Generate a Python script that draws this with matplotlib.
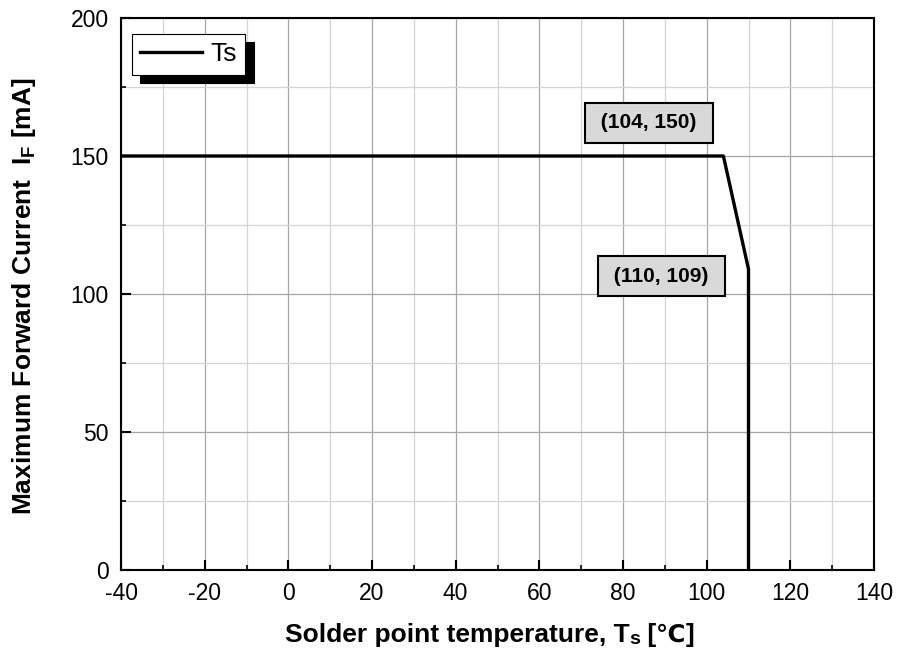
import matplotlib
matplotlib.use("Agg")
import matplotlib.pyplot as plt
from matplotlib.ticker import MultipleLocator

plt.rcParams['font.family'] = ['Liberation Sans', 'DejaVu Sans']
plt.rcParams['mathtext.fontset'] = 'custom'
plt.rcParams['mathtext.rm'] = 'Liberation Sans'
plt.rcParams['mathtext.bf'] = 'Liberation Sans:bold'
plt.rcParams['axes.unicode_minus'] = False

# Data
temp = [-40, 104, 110, 110]
current = [150, 150, 109, 0]
series_label = "Ts"
annotations = [("(104, 150)", 86.2, 162.0), ("(110, 109)", 89.1, 106.5)]
x_ticks = [-40, -20, 0, 20, 40, 60, 80, 100, 120, 140]
y_ticks = [0, 50, 100, 150, 200]

W, H = 898, 658
fig = plt.figure(figsize=(W/100, H/100), dpi=100)
ax = fig.add_axes([121/W, 1-570/H, (874-121)/W, (570-18)/H])

ax.plot(temp, current, color='black', lw=2.4, label=series_label, zorder=5)

ax.set_xlim(-40, 140)
ax.set_ylim(0, 200)
ax.set_xticks(x_ticks)
ax.set_yticks(y_ticks)
ax.xaxis.set_minor_locator(MultipleLocator(10))
ax.yaxis.set_minor_locator(MultipleLocator(25))
ax.grid(which='major', color='#a6a6a6', lw=0.9)
ax.grid(which='minor', color='#d4d4d4', lw=0.9)
ax.set_axisbelow(True)

ax.tick_params(which='major', direction='in', length=7, width=1.5, labelsize=16.5, pad=9)
ax.tick_params(which='minor', direction='in', length=3.5, width=1.2)
for s in ax.spines.values():
    s.set_linewidth(1.5)

# y label
fig.text(24/W, 1-296/H, r"Maximum Forward Current  $\mathbf{I_F}$ [mA]", fontsize=19,
         fontweight='bold', rotation=90, ha='center', va='center')

# x label built from pieces so that the degree-Celsius sign can fall back to DejaVu Sans
fig.canvas.draw()
renderer = fig.canvas.get_renderer()
base_y = 16 / H
parts = [("Solder point temperature, T", 19, 0), ("s", 14, -2), (" [", 19, 0), ("℃", 17.5, 0), ("]", 19, 0)]
texts = []
for s, fs, dy in parts:
    t = fig.text(0, base_y + dy / H, s, fontsize=fs, fontweight='bold', ha='left', va='baseline',
                 family=['Liberation Sans', 'DejaVu Sans'])
    texts.append(t)
widths = [t.get_window_extent(renderer).width for t in texts]
total = sum(widths)
x0 = 489.5 - total / 2
for t, w in zip(texts, widths):
    t.set_x(x0 / W)
    x0 += w

for txt, x, y in annotations:
    ax.text(x, y, " " + txt + " ", fontsize=15, fontweight='bold', ha='center', va='center', zorder=6,
            bbox=dict(boxstyle='square,pad=0.5', fc='#d9d9d9', ec='black', lw=1.5))

leg = ax.legend(loc='upper left', bbox_to_anchor=(11/753, 1-16/552), fontsize=19, fancybox=False,
                edgecolor='black', framealpha=1, handlelength=2.35, borderpad=0.32,
                handletextpad=0.3, borderaxespad=0,
                shadow={'ox': 6, 'oy': -6, 'color': 'black', 'alpha': 1})
leg.get_frame().set_linewidth(0.8)
for line in leg.get_lines():
    line.set_linewidth(2.4)

fig.savefig('out.png', dpi=100)
